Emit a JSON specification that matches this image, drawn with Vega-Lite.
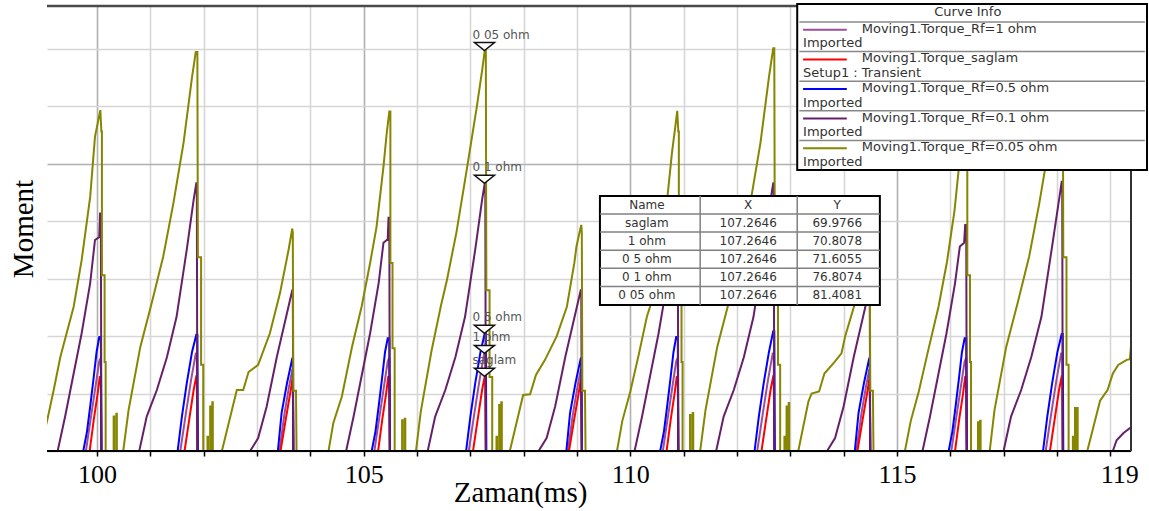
{
  "$schema": "https://vega.github.io/schema/vega-lite/v6.json",
  "width": 1084,
  "height": 445,
  "autosize": "none",
  "padding": {"left": 47, "top": 6, "right": 18, "bottom": 60},
  "background": "white",
  "config": {"view": {"stroke": null}},
  "datasets": {
    "curves": [
      {"s":"1 ohm","t":99.0,"v":0},
      {"s":"1 ohm","t":99.79,"v":0},{"s":"1 ohm","t":99.88,"v":4.5},{"s":"1 ohm","t":99.97,"v":9.0},{"s":"1 ohm","t":100.04,"v":12.5},{"s":"1 ohm","t":100.07,"v":13.0},{"s":"1 ohm","t":100.08,"v":0},
      {"s":"1 ohm","t":101.56,"v":0},{"s":"1 ohm","t":101.66,"v":5.0},{"s":"1 ohm","t":101.76,"v":9.8},{"s":"1 ohm","t":101.85,"v":13.6},{"s":"1 ohm","t":101.87,"v":13.6},{"s":"1 ohm","t":101.88,"v":0},
      {"s":"1 ohm","t":103.42,"v":0},{"s":"1 ohm","t":103.51,"v":5.0},{"s":"1 ohm","t":103.60,"v":9.0},{"s":"1 ohm","t":103.66,"v":11.3},{"s":"1 ohm","t":103.67,"v":11.3},{"s":"1 ohm","t":103.68,"v":0},
      {"s":"1 ohm","t":105.20,"v":0},{"s":"1 ohm","t":105.29,"v":4.5},{"s":"1 ohm","t":105.38,"v":9.0},{"s":"1 ohm","t":105.45,"v":12.5},{"s":"1 ohm","t":105.48,"v":13.0},{"s":"1 ohm","t":105.49,"v":0},
      {"s":"1 ohm","t":106.97,"v":0},{"s":"1 ohm","t":107.07,"v":5.0},{"s":"1 ohm","t":107.17,"v":9.8},{"s":"1 ohm","t":107.26,"v":13.6},{"s":"1 ohm","t":107.28,"v":13.6},{"s":"1 ohm","t":107.29,"v":0},
      {"s":"1 ohm","t":108.83,"v":0},{"s":"1 ohm","t":108.92,"v":5.0},{"s":"1 ohm","t":109.01,"v":9.0},{"s":"1 ohm","t":109.07,"v":11.3},{"s":"1 ohm","t":109.08,"v":11.3},{"s":"1 ohm","t":109.09,"v":0},
      {"s":"1 ohm","t":110.61,"v":0},{"s":"1 ohm","t":110.70,"v":4.5},{"s":"1 ohm","t":110.79,"v":9.0},{"s":"1 ohm","t":110.86,"v":12.5},{"s":"1 ohm","t":110.89,"v":13.0},{"s":"1 ohm","t":110.90,"v":0},
      {"s":"1 ohm","t":112.38,"v":0},{"s":"1 ohm","t":112.48,"v":5.0},{"s":"1 ohm","t":112.58,"v":9.8},{"s":"1 ohm","t":112.67,"v":13.6},{"s":"1 ohm","t":112.69,"v":13.6},{"s":"1 ohm","t":112.70,"v":0},
      {"s":"1 ohm","t":114.24,"v":0},{"s":"1 ohm","t":114.33,"v":5.0},{"s":"1 ohm","t":114.42,"v":9.0},{"s":"1 ohm","t":114.48,"v":11.3},{"s":"1 ohm","t":114.49,"v":11.3},{"s":"1 ohm","t":114.50,"v":0},
      {"s":"1 ohm","t":116.02,"v":0},{"s":"1 ohm","t":116.11,"v":4.5},{"s":"1 ohm","t":116.20,"v":9.0},{"s":"1 ohm","t":116.27,"v":12.5},{"s":"1 ohm","t":116.30,"v":13.0},{"s":"1 ohm","t":116.31,"v":0},
      {"s":"1 ohm","t":117.79,"v":0},{"s":"1 ohm","t":117.89,"v":5.0},{"s":"1 ohm","t":117.99,"v":9.8},{"s":"1 ohm","t":118.08,"v":13.6},{"s":"1 ohm","t":118.10,"v":13.6},{"s":"1 ohm","t":118.11,"v":0},

      {"s":"saglam","t":99.0,"v":0},
      {"s":"saglam","t":99.86,"v":0},{"s":"saglam","t":99.94,"v":4.5},{"s":"saglam","t":100.01,"v":8.0},{"s":"saglam","t":100.05,"v":10.3},{"s":"saglam","t":100.07,"v":10.3},{"s":"saglam","t":100.08,"v":0},
      {"s":"saglam","t":101.64,"v":0},{"s":"saglam","t":101.73,"v":4.5},{"s":"saglam","t":101.81,"v":8.5},{"s":"saglam","t":101.86,"v":10.4},{"s":"saglam","t":101.87,"v":10.4},{"s":"saglam","t":101.88,"v":0},
      {"s":"saglam","t":103.44,"v":0},{"s":"saglam","t":103.54,"v":4.5},{"s":"saglam","t":103.62,"v":8.0},{"s":"saglam","t":103.66,"v":9.9},{"s":"saglam","t":103.67,"v":9.9},{"s":"saglam","t":103.68,"v":0},
      {"s":"saglam","t":105.27,"v":0},{"s":"saglam","t":105.35,"v":4.5},{"s":"saglam","t":105.42,"v":8.0},{"s":"saglam","t":105.46,"v":10.3},{"s":"saglam","t":105.48,"v":10.3},{"s":"saglam","t":105.49,"v":0},
      {"s":"saglam","t":107.05,"v":0},{"s":"saglam","t":107.14,"v":4.5},{"s":"saglam","t":107.22,"v":8.5},{"s":"saglam","t":107.27,"v":10.4},{"s":"saglam","t":107.28,"v":10.4},{"s":"saglam","t":107.29,"v":0},
      {"s":"saglam","t":108.85,"v":0},{"s":"saglam","t":108.95,"v":4.5},{"s":"saglam","t":109.03,"v":8.0},{"s":"saglam","t":109.07,"v":9.9},{"s":"saglam","t":109.08,"v":9.9},{"s":"saglam","t":109.09,"v":0},
      {"s":"saglam","t":110.68,"v":0},{"s":"saglam","t":110.76,"v":4.5},{"s":"saglam","t":110.83,"v":8.0},{"s":"saglam","t":110.87,"v":10.3},{"s":"saglam","t":110.89,"v":10.3},{"s":"saglam","t":110.90,"v":0},
      {"s":"saglam","t":112.46,"v":0},{"s":"saglam","t":112.55,"v":4.5},{"s":"saglam","t":112.63,"v":8.5},{"s":"saglam","t":112.68,"v":10.4},{"s":"saglam","t":112.69,"v":10.4},{"s":"saglam","t":112.70,"v":0},
      {"s":"saglam","t":114.26,"v":0},{"s":"saglam","t":114.36,"v":4.5},{"s":"saglam","t":114.44,"v":8.0},{"s":"saglam","t":114.48,"v":9.9},{"s":"saglam","t":114.49,"v":9.9},{"s":"saglam","t":114.50,"v":0},
      {"s":"saglam","t":116.09,"v":0},{"s":"saglam","t":116.17,"v":4.5},{"s":"saglam","t":116.24,"v":8.0},{"s":"saglam","t":116.28,"v":10.3},{"s":"saglam","t":116.30,"v":10.3},{"s":"saglam","t":116.31,"v":0},
      {"s":"saglam","t":117.87,"v":0},{"s":"saglam","t":117.96,"v":4.5},{"s":"saglam","t":118.04,"v":8.5},{"s":"saglam","t":118.09,"v":10.4},{"s":"saglam","t":118.10,"v":10.4},{"s":"saglam","t":118.11,"v":0},

      {"s":"0.5 ohm","t":99.0,"v":0},
      {"s":"0.5 ohm","t":99.74,"v":0},{"s":"0.5 ohm","t":99.81,"v":2.7},{"s":"0.5 ohm","t":99.87,"v":6.2},{"s":"0.5 ohm","t":99.93,"v":9.9},{"s":"0.5 ohm","t":99.99,"v":13.8},{"s":"0.5 ohm","t":100.04,"v":15.9},{"s":"0.5 ohm","t":100.07,"v":15.9},{"s":"0.5 ohm","t":100.08,"v":0},
      {"s":"0.5 ohm","t":101.51,"v":0},{"s":"0.5 ohm","t":101.59,"v":4.8},{"s":"0.5 ohm","t":101.68,"v":9.4},{"s":"0.5 ohm","t":101.78,"v":13.8},{"s":"0.5 ohm","t":101.86,"v":16.2},{"s":"0.5 ohm","t":101.88,"v":16.2},{"s":"0.5 ohm","t":101.89,"v":0},
      {"s":"0.5 ohm","t":103.39,"v":0},{"s":"0.5 ohm","t":103.46,"v":5.3},{"s":"0.5 ohm","t":103.56,"v":9.4},{"s":"0.5 ohm","t":103.66,"v":12.9},{"s":"0.5 ohm","t":103.67,"v":12.9},{"s":"0.5 ohm","t":103.68,"v":0},
      {"s":"0.5 ohm","t":105.15,"v":0},{"s":"0.5 ohm","t":105.22,"v":2.7},{"s":"0.5 ohm","t":105.28,"v":6.2},{"s":"0.5 ohm","t":105.34,"v":9.9},{"s":"0.5 ohm","t":105.40,"v":13.8},{"s":"0.5 ohm","t":105.45,"v":15.7},{"s":"0.5 ohm","t":105.48,"v":15.7},{"s":"0.5 ohm","t":105.49,"v":0},
      {"s":"0.5 ohm","t":106.92,"v":0},{"s":"0.5 ohm","t":107.00,"v":4.8},{"s":"0.5 ohm","t":107.09,"v":9.4},{"s":"0.5 ohm","t":107.19,"v":13.8},{"s":"0.5 ohm","t":107.27,"v":16.4},{"s":"0.5 ohm","t":107.29,"v":16.4},{"s":"0.5 ohm","t":107.30,"v":0},
      {"s":"0.5 ohm","t":108.80,"v":0},{"s":"0.5 ohm","t":108.87,"v":5.3},{"s":"0.5 ohm","t":108.97,"v":9.4},{"s":"0.5 ohm","t":109.07,"v":12.9},{"s":"0.5 ohm","t":109.08,"v":12.9},{"s":"0.5 ohm","t":109.09,"v":0},
      {"s":"0.5 ohm","t":110.56,"v":0},{"s":"0.5 ohm","t":110.63,"v":2.7},{"s":"0.5 ohm","t":110.69,"v":6.2},{"s":"0.5 ohm","t":110.75,"v":9.9},{"s":"0.5 ohm","t":110.81,"v":13.8},{"s":"0.5 ohm","t":110.86,"v":15.9},{"s":"0.5 ohm","t":110.89,"v":15.9},{"s":"0.5 ohm","t":110.90,"v":0},
      {"s":"0.5 ohm","t":112.33,"v":0},{"s":"0.5 ohm","t":112.41,"v":4.8},{"s":"0.5 ohm","t":112.50,"v":9.4},{"s":"0.5 ohm","t":112.60,"v":13.8},{"s":"0.5 ohm","t":112.68,"v":16.7},{"s":"0.5 ohm","t":112.70,"v":16.7},{"s":"0.5 ohm","t":112.71,"v":0},
      {"s":"0.5 ohm","t":114.21,"v":0},{"s":"0.5 ohm","t":114.28,"v":5.3},{"s":"0.5 ohm","t":114.38,"v":9.4},{"s":"0.5 ohm","t":114.48,"v":12.9},{"s":"0.5 ohm","t":114.49,"v":12.9},{"s":"0.5 ohm","t":114.50,"v":0},
      {"s":"0.5 ohm","t":115.97,"v":0},{"s":"0.5 ohm","t":116.04,"v":2.7},{"s":"0.5 ohm","t":116.10,"v":6.2},{"s":"0.5 ohm","t":116.16,"v":9.9},{"s":"0.5 ohm","t":116.22,"v":13.8},{"s":"0.5 ohm","t":116.27,"v":15.7},{"s":"0.5 ohm","t":116.30,"v":15.7},{"s":"0.5 ohm","t":116.31,"v":0},
      {"s":"0.5 ohm","t":117.74,"v":0},{"s":"0.5 ohm","t":117.82,"v":4.8},{"s":"0.5 ohm","t":117.91,"v":9.4},{"s":"0.5 ohm","t":118.01,"v":13.8},{"s":"0.5 ohm","t":118.09,"v":16.3},{"s":"0.5 ohm","t":118.11,"v":16.3},{"s":"0.5 ohm","t":118.12,"v":0},

      {"s":"0.1 ohm","t":99.0,"v":0},
      {"s":"0.1 ohm","t":99.26,"v":0},{"s":"0.1 ohm","t":99.40,"v":4.8},{"s":"0.1 ohm","t":99.56,"v":10.8},{"s":"0.1 ohm","t":99.71,"v":16.4},{"s":"0.1 ohm","t":99.87,"v":23.4},{"s":"0.1 ohm","t":99.96,"v":29.4},{"s":"0.1 ohm","t":100.04,"v":29.8},{"s":"0.1 ohm","t":100.055,"v":33.1},{"s":"0.1 ohm","t":100.07,"v":33.1},{"s":"0.1 ohm","t":100.08,"v":0},
      {"s":"0.1 ohm","t":100.79,"v":0},{"s":"0.1 ohm","t":100.93,"v":4.8},{"s":"0.1 ohm","t":101.12,"v":8.5},{"s":"0.1 ohm","t":101.31,"v":13.1},{"s":"0.1 ohm","t":101.49,"v":18.7},{"s":"0.1 ohm","t":101.68,"v":28.0},{"s":"0.1 ohm","t":101.81,"v":35.0},{"s":"0.1 ohm","t":101.86,"v":37.3},{"s":"0.1 ohm","t":101.87,"v":37.3},{"s":"0.1 ohm","t":101.88,"v":0},
      {"s":"0.1 ohm","t":102.87,"v":0},{"s":"0.1 ohm","t":103.02,"v":1.8},{"s":"0.1 ohm","t":103.18,"v":6.2},{"s":"0.1 ohm","t":103.37,"v":13.1},{"s":"0.1 ohm","t":103.56,"v":19.2},{"s":"0.1 ohm","t":103.66,"v":22.4},{"s":"0.1 ohm","t":103.67,"v":22.4},{"s":"0.1 ohm","t":103.68,"v":0},
      {"s":"0.1 ohm","t":104.67,"v":0},{"s":"0.1 ohm","t":104.81,"v":4.8},{"s":"0.1 ohm","t":104.97,"v":10.8},{"s":"0.1 ohm","t":105.12,"v":16.4},{"s":"0.1 ohm","t":105.28,"v":23.4},{"s":"0.1 ohm","t":105.37,"v":29.0},{"s":"0.1 ohm","t":105.45,"v":29.5},{"s":"0.1 ohm","t":105.465,"v":32.5},{"s":"0.1 ohm","t":105.48,"v":32.5},{"s":"0.1 ohm","t":105.49,"v":0},
      {"s":"0.1 ohm","t":106.20,"v":0},{"s":"0.1 ohm","t":106.34,"v":4.8},{"s":"0.1 ohm","t":106.53,"v":8.5},{"s":"0.1 ohm","t":106.72,"v":13.1},{"s":"0.1 ohm","t":106.90,"v":18.7},{"s":"0.1 ohm","t":107.09,"v":28.0},{"s":"0.1 ohm","t":107.22,"v":35.0},{"s":"0.1 ohm","t":107.27,"v":37.3},{"s":"0.1 ohm","t":107.28,"v":37.3},{"s":"0.1 ohm","t":107.29,"v":0},
      {"s":"0.1 ohm","t":108.28,"v":0},{"s":"0.1 ohm","t":108.43,"v":1.8},{"s":"0.1 ohm","t":108.59,"v":6.2},{"s":"0.1 ohm","t":108.78,"v":13.1},{"s":"0.1 ohm","t":108.97,"v":19.2},{"s":"0.1 ohm","t":109.07,"v":22.4},{"s":"0.1 ohm","t":109.08,"v":22.4},{"s":"0.1 ohm","t":109.09,"v":0},
      {"s":"0.1 ohm","t":110.08,"v":0},{"s":"0.1 ohm","t":110.22,"v":4.8},{"s":"0.1 ohm","t":110.38,"v":10.8},{"s":"0.1 ohm","t":110.53,"v":16.4},{"s":"0.1 ohm","t":110.69,"v":23.4},{"s":"0.1 ohm","t":110.78,"v":29.4},{"s":"0.1 ohm","t":110.86,"v":29.8},{"s":"0.1 ohm","t":110.875,"v":33.1},{"s":"0.1 ohm","t":110.89,"v":33.1},{"s":"0.1 ohm","t":110.90,"v":0},
      {"s":"0.1 ohm","t":111.61,"v":0},{"s":"0.1 ohm","t":111.75,"v":4.8},{"s":"0.1 ohm","t":111.94,"v":8.5},{"s":"0.1 ohm","t":112.13,"v":13.1},{"s":"0.1 ohm","t":112.31,"v":18.7},{"s":"0.1 ohm","t":112.50,"v":28.0},{"s":"0.1 ohm","t":112.63,"v":35.0},{"s":"0.1 ohm","t":112.68,"v":37.3},{"s":"0.1 ohm","t":112.69,"v":37.3},{"s":"0.1 ohm","t":112.70,"v":0},
      {"s":"0.1 ohm","t":113.69,"v":0},{"s":"0.1 ohm","t":113.84,"v":1.8},{"s":"0.1 ohm","t":114.00,"v":6.2},{"s":"0.1 ohm","t":114.19,"v":13.1},{"s":"0.1 ohm","t":114.38,"v":19.2},{"s":"0.1 ohm","t":114.48,"v":22.4},{"s":"0.1 ohm","t":114.49,"v":22.4},{"s":"0.1 ohm","t":114.50,"v":0},
      {"s":"0.1 ohm","t":115.48,"v":0},{"s":"0.1 ohm","t":115.62,"v":4.8},{"s":"0.1 ohm","t":115.78,"v":10.8},{"s":"0.1 ohm","t":115.93,"v":16.4},{"s":"0.1 ohm","t":116.09,"v":23.4},{"s":"0.1 ohm","t":116.18,"v":28.5},{"s":"0.1 ohm","t":116.26,"v":29.0},{"s":"0.1 ohm","t":116.28,"v":31.5},{"s":"0.1 ohm","t":116.30,"v":31.5},{"s":"0.1 ohm","t":116.31,"v":0},
      {"s":"0.1 ohm","t":117.00,"v":0},{"s":"0.1 ohm","t":117.14,"v":4.8},{"s":"0.1 ohm","t":117.33,"v":8.5},{"s":"0.1 ohm","t":117.52,"v":13.1},{"s":"0.1 ohm","t":117.71,"v":18.7},{"s":"0.1 ohm","t":117.90,"v":28.0},{"s":"0.1 ohm","t":118.04,"v":35.0},{"s":"0.1 ohm","t":118.09,"v":37.5},{"s":"0.1 ohm","t":118.10,"v":37.5},{"s":"0.1 ohm","t":118.11,"v":0},
      {"s":"0.1 ohm","t":119.05,"v":0},{"s":"0.1 ohm","t":119.12,"v":1.5},{"s":"0.1 ohm","t":119.25,"v":2.5},{"s":"0.1 ohm","t":119.39,"v":3.3},{"s":"0.1 ohm","t":119.45,"v":4.0},

      {"s":"0.05 ohm","t":98.93,"v":0},{"s":"0.05 ohm","t":99.07,"v":4.5},{"s":"0.05 ohm","t":99.18,"v":8.3},{"s":"0.05 ohm","t":99.31,"v":13.1},{"s":"0.05 ohm","t":99.56,"v":20.1},{"s":"0.05 ohm","t":99.71,"v":26.6},{"s":"0.05 ohm","t":99.87,"v":35.4},{"s":"0.05 ohm","t":99.96,"v":43.8},{"s":"0.05 ohm","t":100.06,"v":47.5},{"s":"0.05 ohm","t":100.08,"v":44.5},{"s":"0.05 ohm","t":100.09,"v":44.5},{"s":"0.05 ohm","t":100.09,"v":24.5},{"s":"0.05 ohm","t":100.14,"v":24.5},{"s":"0.05 ohm","t":100.14,"v":12.4},{"s":"0.05 ohm","t":100.16,"v":12.4},{"s":"0.05 ohm","t":100.16,"v":0},
      {"s":"0.05 ohm","t":100.31,"v":0},{"s":"0.05 ohm","t":100.31,"v":4.8},{"s":"0.05 ohm","t":100.32,"v":4.8},{"s":"0.05 ohm","t":100.32,"v":0},{"s":"0.05 ohm","t":100.36,"v":0},{"s":"0.05 ohm","t":100.36,"v":5.2},{"s":"0.05 ohm","t":100.37,"v":5.2},{"s":"0.05 ohm","t":100.37,"v":0},
      {"s":"0.05 ohm","t":100.49,"v":0},{"s":"0.05 ohm","t":100.59,"v":5.7},{"s":"0.05 ohm","t":100.81,"v":14.5},{"s":"0.05 ohm","t":101.03,"v":20.8},{"s":"0.05 ohm","t":101.24,"v":27.1},{"s":"0.05 ohm","t":101.43,"v":34.5},{"s":"0.05 ohm","t":101.62,"v":42.9},{"s":"0.05 ohm","t":101.78,"v":52.1},{"s":"0.05 ohm","t":101.85,"v":55.6},{"s":"0.05 ohm","t":101.88,"v":55.6},{"s":"0.05 ohm","t":101.89,"v":27},{"s":"0.05 ohm","t":101.95,"v":27},{"s":"0.05 ohm","t":101.95,"v":12},{"s":"0.05 ohm","t":101.99,"v":12},{"s":"0.05 ohm","t":101.99,"v":0},
      {"s":"0.05 ohm","t":102.07,"v":0},{"s":"0.05 ohm","t":102.07,"v":2.0},{"s":"0.05 ohm","t":102.08,"v":2.0},{"s":"0.05 ohm","t":102.08,"v":0},{"s":"0.05 ohm","t":102.12,"v":0},{"s":"0.05 ohm","t":102.12,"v":6.2},{"s":"0.05 ohm","t":102.13,"v":6.2},{"s":"0.05 ohm","t":102.13,"v":0},{"s":"0.05 ohm","t":102.16,"v":0},{"s":"0.05 ohm","t":102.16,"v":6.8},{"s":"0.05 ohm","t":102.17,"v":6.8},{"s":"0.05 ohm","t":102.17,"v":0},
      {"s":"0.05 ohm","t":102.34,"v":0},{"s":"0.05 ohm","t":102.62,"v":8.5},{"s":"0.05 ohm","t":102.74,"v":8.5},{"s":"0.05 ohm","t":102.84,"v":11.0},{"s":"0.05 ohm","t":103.02,"v":12.0},{"s":"0.05 ohm","t":103.24,"v":16.4},{"s":"0.05 ohm","t":103.43,"v":22.0},{"s":"0.05 ohm","t":103.59,"v":28.0},{"s":"0.05 ohm","t":103.66,"v":31.0},{"s":"0.05 ohm","t":103.67,"v":30.4},{"s":"0.05 ohm","t":103.68,"v":8.4},{"s":"0.05 ohm","t":103.73,"v":8.4},{"s":"0.05 ohm","t":103.74,"v":0},
      {"s":"0.05 ohm","t":104.34,"v":0},{"s":"0.05 ohm","t":104.43,"v":3.9},{"s":"0.05 ohm","t":104.59,"v":7.6},{"s":"0.05 ohm","t":104.78,"v":14.5},{"s":"0.05 ohm","t":104.96,"v":20.1},{"s":"0.05 ohm","t":105.12,"v":26.2},{"s":"0.05 ohm","t":105.24,"v":31.2},{"s":"0.05 ohm","t":105.37,"v":39.6},{"s":"0.05 ohm","t":105.43,"v":44.2},{"s":"0.05 ohm","t":105.48,"v":47.3},{"s":"0.05 ohm","t":105.50,"v":47.3},{"s":"0.05 ohm","t":105.50,"v":26.2},{"s":"0.05 ohm","t":105.54,"v":26.2},{"s":"0.05 ohm","t":105.54,"v":14.3},{"s":"0.05 ohm","t":105.58,"v":14.3},{"s":"0.05 ohm","t":105.58,"v":0},
      {"s":"0.05 ohm","t":105.72,"v":0},{"s":"0.05 ohm","t":105.72,"v":4.3},{"s":"0.05 ohm","t":105.73,"v":4.3},{"s":"0.05 ohm","t":105.73,"v":0},{"s":"0.05 ohm","t":105.77,"v":0},{"s":"0.05 ohm","t":105.77,"v":4.5},{"s":"0.05 ohm","t":105.78,"v":4.5},{"s":"0.05 ohm","t":105.78,"v":0},
      {"s":"0.05 ohm","t":105.98,"v":0},{"s":"0.05 ohm","t":106.07,"v":5.5},{"s":"0.05 ohm","t":106.27,"v":13.9},{"s":"0.05 ohm","t":106.45,"v":20.3},{"s":"0.05 ohm","t":106.56,"v":23.8},{"s":"0.05 ohm","t":106.74,"v":30.5},{"s":"0.05 ohm","t":106.93,"v":39.1},{"s":"0.05 ohm","t":107.12,"v":47.9},{"s":"0.05 ohm","t":107.22,"v":53.0},{"s":"0.05 ohm","t":107.27,"v":55.8},{"s":"0.05 ohm","t":107.29,"v":55.8},{"s":"0.05 ohm","t":107.30,"v":22.4},{"s":"0.05 ohm","t":107.36,"v":22.4},{"s":"0.05 ohm","t":107.36,"v":10.3},{"s":"0.05 ohm","t":107.41,"v":10.3},{"s":"0.05 ohm","t":107.41,"v":0},
      {"s":"0.05 ohm","t":107.49,"v":0},{"s":"0.05 ohm","t":107.49,"v":2.0},{"s":"0.05 ohm","t":107.50,"v":2.0},{"s":"0.05 ohm","t":107.50,"v":0},{"s":"0.05 ohm","t":107.54,"v":0},{"s":"0.05 ohm","t":107.54,"v":6.4},{"s":"0.05 ohm","t":107.55,"v":6.4},{"s":"0.05 ohm","t":107.55,"v":0},{"s":"0.05 ohm","t":107.58,"v":0},{"s":"0.05 ohm","t":107.58,"v":6.8},{"s":"0.05 ohm","t":107.59,"v":6.8},{"s":"0.05 ohm","t":107.59,"v":0},
      {"s":"0.05 ohm","t":107.74,"v":0},{"s":"0.05 ohm","t":107.99,"v":7.8},{"s":"0.05 ohm","t":108.12,"v":7.9},{"s":"0.05 ohm","t":108.23,"v":10.6},{"s":"0.05 ohm","t":108.40,"v":12.7},{"s":"0.05 ohm","t":108.62,"v":16.0},{"s":"0.05 ohm","t":108.81,"v":20.1},{"s":"0.05 ohm","t":108.95,"v":26.2},{"s":"0.05 ohm","t":108.99,"v":28.5},{"s":"0.05 ohm","t":109.04,"v":30.2},{"s":"0.05 ohm","t":109.08,"v":31.5},{"s":"0.05 ohm","t":109.09,"v":30.4},{"s":"0.05 ohm","t":109.10,"v":8.4},{"s":"0.05 ohm","t":109.15,"v":8.4},{"s":"0.05 ohm","t":109.16,"v":0},
      {"s":"0.05 ohm","t":109.75,"v":0},{"s":"0.05 ohm","t":109.85,"v":4.2},{"s":"0.05 ohm","t":110.00,"v":8.3},{"s":"0.05 ohm","t":110.16,"v":13.5},{"s":"0.05 ohm","t":110.31,"v":18.7},{"s":"0.05 ohm","t":110.37,"v":20.1},{"s":"0.05 ohm","t":110.53,"v":26.4},{"s":"0.05 ohm","t":110.67,"v":33.5},{"s":"0.05 ohm","t":110.78,"v":41.5},{"s":"0.05 ohm","t":110.84,"v":45.0},{"s":"0.05 ohm","t":110.88,"v":47.4},{"s":"0.05 ohm","t":110.90,"v":44.5},{"s":"0.05 ohm","t":110.91,"v":44.5},{"s":"0.05 ohm","t":110.91,"v":24.5},{"s":"0.05 ohm","t":110.96,"v":24.5},{"s":"0.05 ohm","t":110.96,"v":12.4},{"s":"0.05 ohm","t":110.98,"v":12.4},{"s":"0.05 ohm","t":110.98,"v":0},
      {"s":"0.05 ohm","t":111.12,"v":0},{"s":"0.05 ohm","t":111.12,"v":5.0},{"s":"0.05 ohm","t":111.13,"v":5.0},{"s":"0.05 ohm","t":111.13,"v":0},{"s":"0.05 ohm","t":111.17,"v":0},{"s":"0.05 ohm","t":111.17,"v":5.3},{"s":"0.05 ohm","t":111.18,"v":5.3},{"s":"0.05 ohm","t":111.18,"v":0},
      {"s":"0.05 ohm","t":111.31,"v":0},{"s":"0.05 ohm","t":111.41,"v":5.7},{"s":"0.05 ohm","t":111.63,"v":14.5},{"s":"0.05 ohm","t":111.85,"v":20.8},{"s":"0.05 ohm","t":112.06,"v":27.1},{"s":"0.05 ohm","t":112.25,"v":34.5},{"s":"0.05 ohm","t":112.44,"v":42.9},{"s":"0.05 ohm","t":112.60,"v":52.1},{"s":"0.05 ohm","t":112.68,"v":56.1},{"s":"0.05 ohm","t":112.70,"v":56.1},{"s":"0.05 ohm","t":112.71,"v":27},{"s":"0.05 ohm","t":112.77,"v":27},{"s":"0.05 ohm","t":112.77,"v":12},{"s":"0.05 ohm","t":112.81,"v":12},{"s":"0.05 ohm","t":112.81,"v":0},
      {"s":"0.05 ohm","t":112.89,"v":0},{"s":"0.05 ohm","t":112.89,"v":2.0},{"s":"0.05 ohm","t":112.90,"v":2.0},{"s":"0.05 ohm","t":112.90,"v":0},{"s":"0.05 ohm","t":112.93,"v":0},{"s":"0.05 ohm","t":112.93,"v":6.2},{"s":"0.05 ohm","t":112.94,"v":6.2},{"s":"0.05 ohm","t":112.94,"v":0},{"s":"0.05 ohm","t":112.97,"v":0},{"s":"0.05 ohm","t":112.97,"v":6.7},{"s":"0.05 ohm","t":112.98,"v":6.7},{"s":"0.05 ohm","t":112.98,"v":0},
      {"s":"0.05 ohm","t":113.15,"v":0},{"s":"0.05 ohm","t":113.34,"v":6.9},{"s":"0.05 ohm","t":113.40,"v":8.0},{"s":"0.05 ohm","t":113.54,"v":8.3},{"s":"0.05 ohm","t":113.64,"v":10.8},{"s":"0.05 ohm","t":113.82,"v":12.3},{"s":"0.05 ohm","t":113.96,"v":13.6},{"s":"0.05 ohm","t":114.03,"v":16.0},{"s":"0.05 ohm","t":114.21,"v":20.5},{"s":"0.05 ohm","t":114.36,"v":26.5},{"s":"0.05 ohm","t":114.45,"v":30.0},{"s":"0.05 ohm","t":114.48,"v":31.2},{"s":"0.05 ohm","t":114.49,"v":30.4},{"s":"0.05 ohm","t":114.50,"v":8.4},{"s":"0.05 ohm","t":114.55,"v":8.4},{"s":"0.05 ohm","t":114.56,"v":0},
      {"s":"0.05 ohm","t":115.15,"v":0},{"s":"0.05 ohm","t":115.26,"v":4.2},{"s":"0.05 ohm","t":115.41,"v":8.3},{"s":"0.05 ohm","t":115.57,"v":13.5},{"s":"0.05 ohm","t":115.78,"v":20.1},{"s":"0.05 ohm","t":115.94,"v":26.4},{"s":"0.05 ohm","t":116.08,"v":33.5},{"s":"0.05 ohm","t":116.19,"v":41.5},{"s":"0.05 ohm","t":116.25,"v":45.0},{"s":"0.05 ohm","t":116.29,"v":47.4},{"s":"0.05 ohm","t":116.31,"v":44.5},{"s":"0.05 ohm","t":116.32,"v":44.5},{"s":"0.05 ohm","t":116.32,"v":24.5},{"s":"0.05 ohm","t":116.37,"v":24.5},{"s":"0.05 ohm","t":116.37,"v":12.4},{"s":"0.05 ohm","t":116.39,"v":12.4},{"s":"0.05 ohm","t":116.39,"v":0},
      {"s":"0.05 ohm","t":116.52,"v":0},{"s":"0.05 ohm","t":116.52,"v":4.0},{"s":"0.05 ohm","t":116.53,"v":4.0},{"s":"0.05 ohm","t":116.53,"v":0},{"s":"0.05 ohm","t":116.56,"v":0},{"s":"0.05 ohm","t":116.56,"v":4.2},{"s":"0.05 ohm","t":116.57,"v":4.2},{"s":"0.05 ohm","t":116.57,"v":0},
      {"s":"0.05 ohm","t":116.74,"v":0},{"s":"0.05 ohm","t":116.83,"v":5.7},{"s":"0.05 ohm","t":117.05,"v":14.5},{"s":"0.05 ohm","t":117.27,"v":20.8},{"s":"0.05 ohm","t":117.48,"v":27.1},{"s":"0.05 ohm","t":117.67,"v":34.5},{"s":"0.05 ohm","t":117.86,"v":42.9},{"s":"0.05 ohm","t":118.02,"v":52.1},{"s":"0.05 ohm","t":118.09,"v":55.6},{"s":"0.05 ohm","t":118.11,"v":55.6},{"s":"0.05 ohm","t":118.12,"v":27},{"s":"0.05 ohm","t":118.18,"v":27},{"s":"0.05 ohm","t":118.18,"v":12},{"s":"0.05 ohm","t":118.22,"v":12},{"s":"0.05 ohm","t":118.22,"v":0},
      {"s":"0.05 ohm","t":118.30,"v":0},{"s":"0.05 ohm","t":118.30,"v":2.0},{"s":"0.05 ohm","t":118.31,"v":2.0},{"s":"0.05 ohm","t":118.31,"v":0},{"s":"0.05 ohm","t":118.34,"v":0},{"s":"0.05 ohm","t":118.34,"v":6.0},{"s":"0.05 ohm","t":118.35,"v":6.0},{"s":"0.05 ohm","t":118.35,"v":0},{"s":"0.05 ohm","t":118.38,"v":0},{"s":"0.05 ohm","t":118.38,"v":6.0},{"s":"0.05 ohm","t":118.39,"v":6.0},{"s":"0.05 ohm","t":118.39,"v":0},
      {"s":"0.05 ohm","t":118.57,"v":0},{"s":"0.05 ohm","t":118.81,"v":7.0},{"s":"0.05 ohm","t":118.95,"v":8.5},{"s":"0.05 ohm","t":119.05,"v":10.8},{"s":"0.05 ohm","t":119.15,"v":12.0},{"s":"0.05 ohm","t":119.31,"v":12.7},{"s":"0.05 ohm","t":119.37,"v":12.8},{"s":"0.05 ohm","t":119.39,"v":14.6},{"s":"0.05 ohm","t":119.45,"v":16.0}
    ],
    "markers": [
      {"s":"0.05 ohm","lab":"0 05 ohm","t":107.2646,"v":55.8},
      {"s":"0.1 ohm","lab":"0 1 ohm","t":107.2646,"v":37.3},
      {"s":"0.5 ohm","lab":"0 5 ohm","t":107.2646,"v":16.4},
      {"s":"1 ohm","lab":"1 ohm","t":107.2646,"v":13.6},
      {"s":"saglam","lab":"saglam","t":107.2646,"v":10.4}
    ],
    "table": [
      {"r":0,"name":"Name","X":"X","Y":"Y"},
      {"r":1,"name":"saglam","X":"107.2646","Y":"69.9766"},
      {"r":2,"name":"1 ohm","X":"107.2646","Y":"70.8078"},
      {"r":3,"name":"0 5 ohm","X":"107.2646","Y":"71.6055"},
      {"r":4,"name":"0 1 ohm","X":"107.2646","Y":"76.8074"},
      {"r":5,"name":"0 05 ohm","X":"107.2646","Y":"81.4081"}
    ],
    "legendrows": [
      {"r":1,"s":"1 ohm","name":"Moving1.Torque_Rf=1 ohm","sub":"Imported"},
      {"r":2,"s":"saglam","name":"Moving1.Torque_saglam","sub":"Setup1 : Transient"},
      {"r":3,"s":"0.5 ohm","name":"Moving1.Torque_Rf=0.5 ohm","sub":"Imported"},
      {"r":4,"s":"0.1 ohm","name":"Moving1.Torque_Rf=0.1 ohm","sub":"Imported"},
      {"r":5,"s":"0.05 ohm","name":"Moving1.Torque_Rf=0.05 ohm","sub":"Imported"}
    ]
  },
  "resolve": {"scale": {"y": "independent"}},
  "layer": [
    {
      "layer": [
        {
          "data": {"name": "curves"},
          "mark": {"type": "line", "clip": true, "strokeWidth": 2},
          "encoding": {
            "x": {
              "field": "t", "type": "quantitative",
              "scale": {"domain": [99.06, 119.39], "nice": false, "zero": false},
              "axis": {
                "values": [100,101,102,103,104,105,106,107,108,109,110,111,112,113,114,115,116,117,118,119],
                "labelExpr": "(datum.value % 5 == 0 || datum.value == 119) ? format(datum.value, 'd') : ''",
                "labelFont": "Liberation Serif", "labelFontSize": 26, "labelColor": "#000",
                "labelPadding": 5, "labelOverlap": false, "labelFlush": false,
                "labelOffset": {"condition": {"test": "datum.value == 119", "value": 9}, "value": 0},
                "domain": false,
                "ticks": true, "tickSize": 5, "tickColor": "#000", "tickWidth": 1.5,
                "grid": true, "gridWidth": 1.6,
                "gridColor": {"condition": {"test": "datum.value % 5 == 0", "value": "#b0b0b0"}, "value": "#d6d6d6"},
                "title": "Zaman(ms)", "titleFont": "Liberation Serif", "titleFontSize": 29,
                "titleFontWeight": "normal", "titleColor": "#000",
                "titleX": 473, "titleY": 41, "titleBaseline": "middle"
              }
            },
            "y": {
              "field": "v", "type": "quantitative",
              "scale": {"domain": [0, 62], "nice": false, "zero": false},
              "axis": {
                "values": [0,2,4,6,8,10,12,14,16,18,20,22,24,26,28,30,32,34,36,38,40,42,44,46,48,50,52,54,56,58,60,62],
                "labels": false, "ticks": false, "domain": false,
                "grid": true, "gridWidth": 1.6,
                "gridColor": {"condition": {"test": "datum.value % 10 == 0", "value": "#b0b0b0"}, "value": "#d6d6d6"},
                "title": "Moment", "titleFont": "Liberation Serif", "titleFontSize": 29,
                "titleFontWeight": "normal", "titleColor": "#000", "titlePadding": 9
              }
            },
            "color": {
              "field": "s", "type": "nominal",
              "scale": {"domain": ["1 ohm", "saglam", "0.5 ohm", "0.1 ohm", "0.05 ohm"],
                        "range": ["#9b4f9b", "#ff0000", "#0000ff", "#66206a", "#868600"]},
              "legend": null
            },
            "order": {"value": null}
          }
        },
        {
          "data": {"values": [{}]},
          "mark": {"type": "rule", "color": "#000", "strokeWidth": 2},
          "encoding": {"y": {"datum": 0}}
        },
        {
          "data": {"values": [{}]},
          "mark": {"type": "rule", "color": "#4a4a4a", "strokeWidth": 2.5},
          "encoding": {"y": {"datum": 62}}
        },
        {
          "data": {"values": [{}]},
          "mark": {"type": "rule", "color": "#333", "strokeWidth": 2},
          "encoding": {"x": {"datum": 119.39}}
        },
        {
          "data": {"name": "markers"},
          "mark": {"type": "point", "shape": "M-1,-0.8L1,-0.8L0,0Z", "size": 400, "filled": true,
                   "fill": "white", "stroke": "#111", "strokeWidth": 1.5, "opacity": 1},
          "encoding": {
            "x": {"field": "t", "type": "quantitative"},
            "y": {"field": "v", "type": "quantitative"}
          }
        },
        {
          "data": {"name": "markers"},
          "mark": {"type": "text", "align": "left", "baseline": "middle", "dx": -12, "dy": -16,
                   "font": "DejaVu Sans", "fontSize": 12, "fill": "#555"},
          "encoding": {
            "x": {"field": "t", "type": "quantitative"},
            "y": {"field": "v", "type": "quantitative"},
            "text": {"field": "lab"}
          }
        }
      ]
    },
    {
      "layer": [
        {
          "data": {"values": [{}]},
          "mark": {"type": "rect", "fill": "white", "stroke": "#000", "strokeWidth": 2},
          "encoding": {
            "x": {"datum": 109.43}, "x2": {"datum": 114.68},
            "y": {"datum": -0.5, "type": "quantitative",
                  "scale": {"domain": [-10.99, 13.59], "reverse": true, "nice": false, "zero": false},
                  "axis": null},
            "y2": {"datum": 5.52}
          }
        },
        {
          "data": {"name": "table"},
          "transform": [{"filter": "datum.r < 5"}],
          "mark": {"type": "rule", "stroke": "#808080", "strokeWidth": 1.5, "yOffset": 9},
          "encoding": {
            "x": {"datum": 109.43}, "x2": {"datum": 114.68},
            "y": {"field": "r", "type": "quantitative", "axis": null}
          }
        },
        {
          "data": {"values": [{}]},
          "mark": {"type": "rule", "stroke": "#808080", "strokeWidth": 1.5},
          "encoding": {"x": {"datum": 111.31}, "y": {"datum": -0.5, "type": "quantitative", "axis": null}, "y2": {"datum": 5.52}}
        },
        {
          "data": {"values": [{}]},
          "mark": {"type": "rule", "stroke": "#808080", "strokeWidth": 1.5},
          "encoding": {"x": {"datum": 113.13}, "y": {"datum": -0.5, "type": "quantitative", "axis": null}, "y2": {"datum": 5.52}}
        },
        {
          "data": {"name": "table"},
          "mark": {"type": "text", "align": "center", "baseline": "middle", "font": "DejaVu Sans", "fontSize": 12, "fill": "#333"},
          "encoding": {"x": {"datum": 110.31}, "y": {"field": "r", "type": "quantitative", "axis": null}, "text": {"field": "name"}}
        },
        {
          "data": {"name": "table"},
          "mark": {"type": "text", "align": "center", "baseline": "middle", "font": "DejaVu Sans", "fontSize": 12, "fill": "#333"},
          "encoding": {"x": {"datum": 112.21}, "y": {"field": "r", "type": "quantitative", "axis": null}, "text": {"field": "X"}}
        },
        {
          "data": {"name": "table"},
          "mark": {"type": "text", "align": "center", "baseline": "middle", "font": "DejaVu Sans", "fontSize": 12, "fill": "#333"},
          "encoding": {"x": {"datum": 113.88}, "y": {"field": "r", "type": "quantitative", "axis": null}, "text": {"field": "Y"}}
        }
      ]
    },
    {
      "layer": [
        {
          "data": {"values": [{}]},
          "mark": {"type": "rect", "fill": "white", "stroke": "#000", "strokeWidth": 2},
          "encoding": {
            "x": {"datum": 113.13}, "x2": {"datum": 119.69},
            "y": {"datum": -0.108, "type": "quantitative",
                  "scale": {"domain": [-0.0405, 14.993], "reverse": true, "nice": false, "zero": false},
                  "axis": null},
            "y2": {"datum": 5.5}
          }
        },
        {
          "data": {"name": "legendrows"},
          "mark": {"type": "rule", "stroke": "#888", "strokeWidth": 1.5, "yOffset": -14.8},
          "encoding": {
            "x": {"datum": 113.17}, "x2": {"datum": 119.65},
            "y": {"field": "r", "type": "quantitative", "axis": null}
          }
        },
        {
          "data": {"name": "legendrows"},
          "mark": {"type": "rule", "strokeWidth": 2, "yOffset": -7},
          "encoding": {
            "x": {"datum": 113.24}, "x2": {"datum": 114.06},
            "y": {"field": "r", "type": "quantitative", "axis": null},
            "color": {"field": "s", "type": "nominal", "legend": null}
          }
        },
        {
          "data": {"name": "legendrows"},
          "mark": {"type": "text", "align": "left", "baseline": "middle", "dy": -8, "font": "DejaVu Sans", "fontSize": 13, "fill": "#333"},
          "encoding": {"x": {"datum": 114.34}, "y": {"field": "r", "type": "quantitative", "axis": null}, "text": {"field": "name"}}
        },
        {
          "data": {"name": "legendrows"},
          "mark": {"type": "text", "align": "left", "baseline": "middle", "dy": 6.5, "font": "DejaVu Sans", "fontSize": 13, "fill": "#333"},
          "encoding": {"x": {"datum": 113.24}, "y": {"field": "r", "type": "quantitative", "axis": null}, "text": {"field": "sub"}}
        },
        {
          "data": {"values": [{"title": "Curve Info"}]},
          "mark": {"type": "text", "align": "center", "baseline": "middle", "font": "DejaVu Sans", "fontSize": 13, "fill": "#333"},
          "encoding": {"x": {"datum": 116.33}, "y": {"datum": 0.16, "type": "quantitative", "axis": null}, "text": {"field": "title"}}
        }
      ]
    }
  ]
}
